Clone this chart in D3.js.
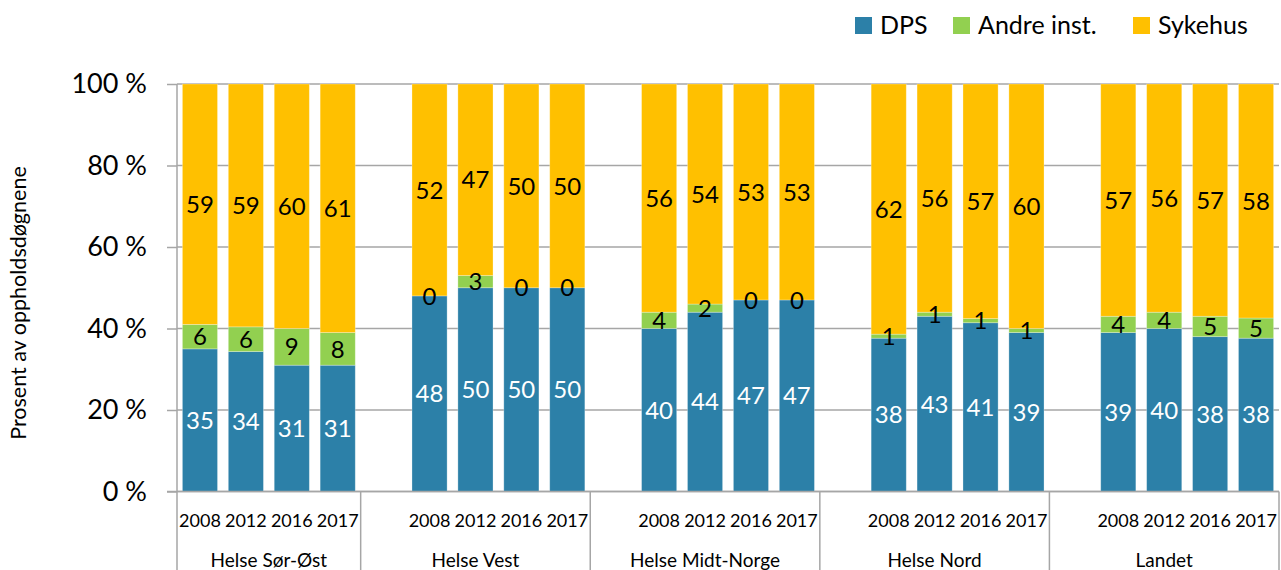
<!DOCTYPE html>
<html>
<head>
<meta charset="utf-8">
<script src="https://cdn.jsdelivr.net/npm/d3@7"></script>
<style>
  html, body { margin: 0; padding: 0; background: #fff; }
  svg { display: block; font-family: Lato, "Noto Sans", sans-serif; }
</style>
</head>
<body>
<svg id="chart" width="1281" height="570"></svg>
<script>
// Regions, years and shares (%) of inpatient days by institution type
const regions = ["Helse Sør-Øst", "Helse Vest", "Helse Midt-Norge", "Helse Nord", "Landet"];
const years = ["2008", "2012", "2016", "2017"];
const seriesNames = ["DPS", "Andre inst.", "Sykehus"];
const seriesColors = ["#2C80A8", "#92D050", "#FFC000"];
const labelColors = ["#ffffff", "#000000", "#000000"];

const dps     = [[35, 34, 31, 31], [48, 50, 50, 50], [40, 44, 47, 47], [38, 43, 41, 39], [39, 40, 38, 38]];
const andre   = [[6, 6, 9, 8],     [0, 3, 0, 0],     [4, 2, 0, 0],     [1, 1, 1, 1],     [4, 4, 5, 5]];
const sykehus = [[59, 59, 60, 61], [52, 47, 50, 50], [56, 54, 53, 53], [62, 56, 57, 60], [57, 56, 57, 58]];

const yTicks = [0, 0.2, 0.4, 0.6, 0.8, 1.0];
const yTitle = "Prosent av oppholdsdøgnene";

// Flat rows, one per bar; a blank slot separates consecutive regions
const slots = [];
const rows = [];
regions.forEach((r, gi) => {
  if (gi > 0) slots.push("gap-" + gi);
  years.forEach((yr, yi) => {
    const key = r + "|" + yr;
    slots.push(key);
    rows.push({ key, region: r, year: yr, gi,
      "DPS": dps[gi][yi], "Andre inst.": andre[gi][yi], "Sykehus": sykehus[gi][yi] });
  });
});

const svg = d3.select("#chart");
const plotLeft = 177, plotRight = 1279, plotTop = 84, plotBottom = 491.5;

const x = d3.scaleBand().domain(slots).range([plotLeft, plotRight]).paddingInner(0.235).paddingOuter(0.1175);
const y = d3.scaleLinear().domain([0, 1]).range([plotBottom, plotTop]);

const stack = d3.stack().keys(seriesNames).offset(d3.stackOffsetExpand);
const stacked = stack(rows);

const gridColor = "#a6a6a6";

// Horizontal gridlines
svg.append("g").selectAll("line").data(yTicks).join("line")
  .attr("x1", plotLeft).attr("x2", plotRight)
  .attr("y1", d => y(d)).attr("y2", d => y(d))
  .attr("stroke", gridColor).attr("stroke-width", 1.5);

// Y axis
const yAxis = d3.axisLeft(y).tickValues(yTicks).tickSize(10).tickPadding(20)
  .tickFormat(d => Math.round(d * 100) + " %");
const ya = svg.append("g").attr("transform", `translate(${plotLeft},0)`).call(yAxis);
ya.select(".domain").remove();
ya.selectAll(".tick line").attr("stroke", gridColor).attr("stroke-width", 1.5);
ya.selectAll(".tick text").attr("font-size", 27).attr("fill", "#000")
  .attr("font-family", "Lato, 'Noto Sans', sans-serif");

// Bars
const layers = svg.append("g").selectAll("g").data(stacked).join("g")
  .attr("fill", (d, i) => seriesColors[i]);
layers.selectAll("rect").data(d => d).join("rect")
  .attr("x", d => x(d.data.key))
  .attr("width", x.bandwidth())
  .attr("y", d => y(d[1]))
  .attr("height", d => y(d[0]) - y(d[1]))
  .attr("stroke", "#ffffff").attr("stroke-opacity", 0.35).attr("stroke-width", 0.8);

// Value labels centred in each segment
const lbl = svg.append("g").attr("font-size", 24).attr("text-anchor", "middle");
stacked.forEach((layer, si) => {
  lbl.selectAll(null).data(layer).join("text")
    .attr("x", d => x(d.data.key) + x.bandwidth() / 2)
    .attr("y", d => y((d[0] + d[1]) / 2))
    .attr("dy", "0.36em")
    .attr("fill", labelColors[si])
    .text(d => d.data[seriesNames[si]]);
});

// Category axis: baseline, year labels, region labels and separators
svg.append("line").attr("x1", plotLeft - 10).attr("x2", plotRight).attr("y1", plotBottom).attr("y2", plotBottom)
  .attr("stroke", gridColor).attr("stroke-width", 1.5);
svg.append("line").attr("x1", plotLeft).attr("x2", plotLeft).attr("y1", plotTop).attr("y2", 570)
  .attr("stroke", gridColor).attr("stroke-width", 1.5);

svg.append("g").attr("font-size", 18).attr("text-anchor", "middle")
  .selectAll("text").data(rows).join("text")
  .attr("x", d => x(d.key) + x.bandwidth() / 2)
  .attr("y", 527)
  .text(d => d.year);

const step = x.step();
const groupSpan = regions.map((r, gi) => {
  const first = x(r + "|" + years[0]) - x.paddingInner() * step / 2;
  const last = x(r + "|" + years[years.length - 1]) + x.bandwidth() + x.paddingInner() * step / 2;
  const start = gi === 0 ? plotLeft : first - step;
  return { r, start, end: last };
});

svg.append("g").selectAll("line").data(groupSpan).join("line")
  .attr("x1", d => d.end).attr("x2", d => d.end)
  .attr("y1", plotBottom).attr("y2", 570)
  .attr("stroke", gridColor).attr("stroke-width", 1.5);

svg.append("g").attr("font-size", 19).attr("text-anchor", "middle")
  .selectAll("text").data(groupSpan).join("text")
  .attr("x", d => (d.start + d.end) / 2)
  .attr("y", 567)
  .text(d => d.r);

// Y axis title
svg.append("text")
  .attr("transform", `translate(26, ${(163 + 443) / 2}) rotate(-90)`)
  .attr("text-anchor", "middle").attr("font-size", 21.5)
  .text(yTitle);

// Legend
const legendX = [855, 953, 1133];
const lg = svg.append("g").selectAll("g").data(seriesNames).join("g")
  .attr("transform", (d, i) => `translate(${legendX[i]},17)`);
lg.append("rect").attr("width", 17).attr("height", 17).attr("fill", (d, i) => seriesColors[i]);
lg.append("text").attr("x", 25).attr("y", 17).attr("font-size", 25).text(d => d);
</script>
</body>
</html>
